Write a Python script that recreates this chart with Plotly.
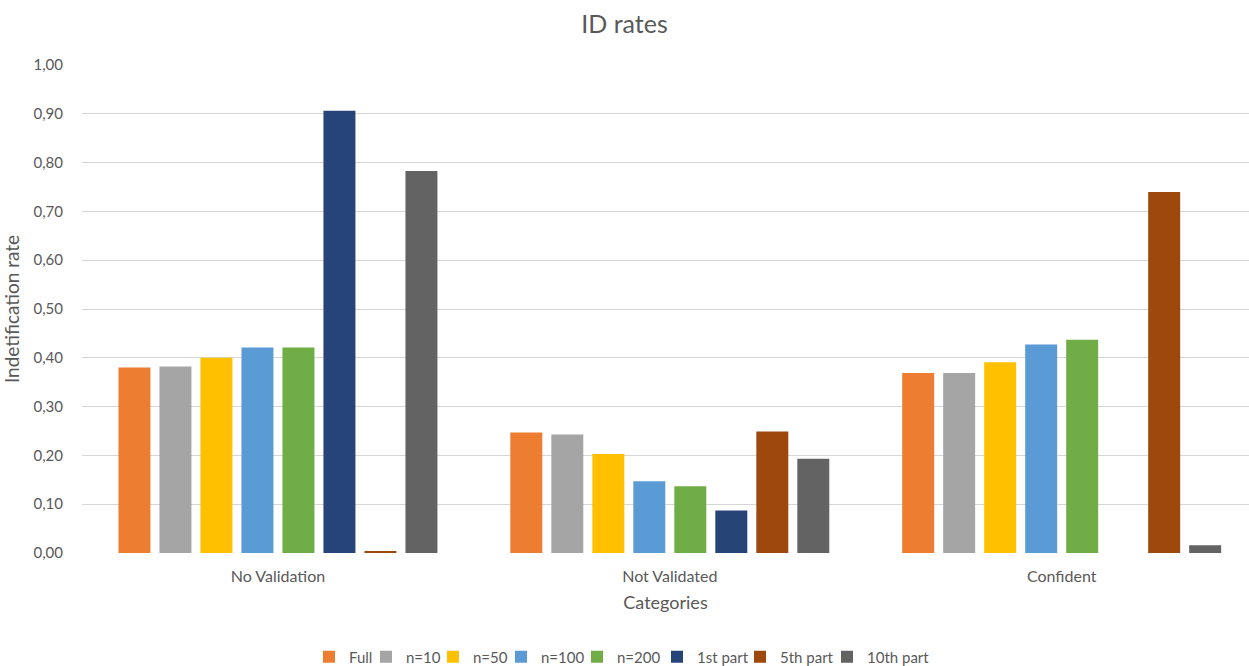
import plotly.graph_objects as go

# Categories on the x axis
categories = ["No Validation", "Not Validated", "Confident"]

# Identification rate per series, one value per category
full = [0.380, 0.247, 0.369]
n10 = [0.382, 0.243, 0.369]
n50 = [0.400, 0.203, 0.391]
n100 = [0.421, 0.147, 0.427]
n200 = [0.421, 0.137, 0.437]
part1 = [0.906, 0.087, 0.0]
part5 = [0.004, 0.249, 0.740]
part10 = [0.783, 0.193, 0.016]

series_names = ["Full", "n=10", "n=50", "n=100", "n=200", "1st part", "5th part", "10th part"]
series_values = [full, n10, n50, n100, n200, part1, part5, part10]
series_colors = ["#ED7D31", "#A5A5A5", "#FFC000", "#5B9BD5", "#70AD47",
                 "#264478", "#9E480E", "#636363"]
# width reserved for each legend entry's label, keeps the legend compact
legend_widths = [12, 22, 23, 31, 35, 38, 42, 68]

y_ticks = [i / 10 for i in range(11)]

FONT = "Lato"
TEXT = "#595959"

fig = go.Figure()
for name, vals, col, lw in zip(series_names, series_values, series_colors, legend_widths):
    fig.add_trace(go.Bar(
        name=name, x=categories, y=vals,
        marker=dict(color=col, line=dict(width=0)),
        legendwidth=lw,
    ))

fig.update_layout(
    width=1249, height=666,
    barmode="group", bargap=0.163, bargroupgap=0.22,
    separators=",.",
    paper_bgcolor="white", plot_bgcolor="white",
    margin=dict(l=82, r=0, t=65, b=113),
    font=dict(family=FONT, color=TEXT, size=15),
    title=dict(text="ID rates", x=0.5, xanchor="center",
               y=1 - 24 / 666, yanchor="middle", yref="container",
               font=dict(size=25, color=TEXT, family=FONT)),
    legend=dict(orientation="h", x=0.5, xanchor="center", xref="container",
                y=9 / 666, yanchor="middle", yref="container",
                font=dict(size=15, color=TEXT, family=FONT),
                itemwidth=30, tracegroupgap=0),
    xaxis=dict(type="category", range=[-0.5, 2.478],
               showgrid=False, zeroline=False, showline=False,
               ticks="", ticklabelstandoff=12,
               tickfont=dict(size=16, color=TEXT, family=FONT),
               title=dict(text="Categories", standoff=12,
                          font=dict(size=18, color=TEXT, family=FONT))),
    yaxis=dict(range=[0, 1.0], tickvals=y_ticks, tickformat=".2f",
               showgrid=True, gridcolor="#d6d6d6", gridwidth=1.25,
               zeroline=False, showline=False, ticks="",
               ticklabelstandoff=18,
               tickfont=dict(size=15, color=TEXT, family=FONT),
               title=dict(text="Indetification rate", standoff=8,
                          font=dict(size=19, color=TEXT, family=FONT))),
)

fig.write_html("out.html")
